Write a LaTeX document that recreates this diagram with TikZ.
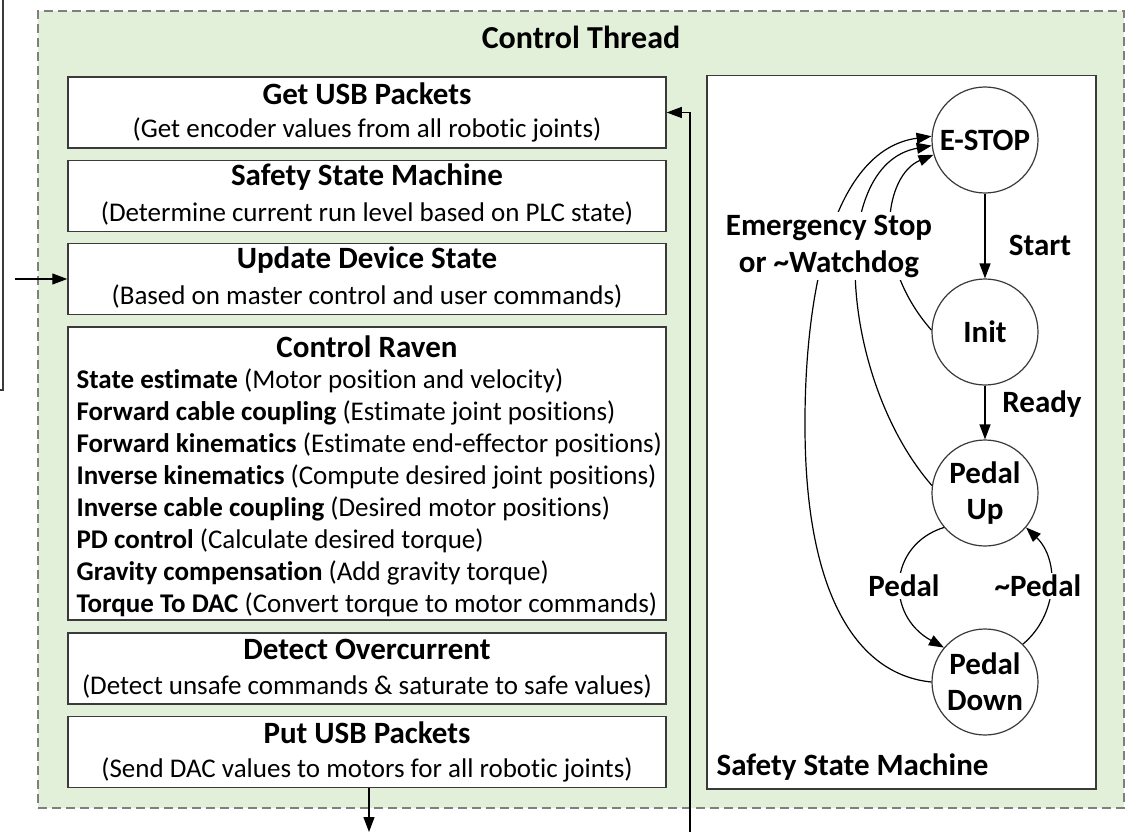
\documentclass[tikz,border=0pt]{standalone}
\usepackage{fontspec}
\setmainfont{Carlito}[Ligatures=NoCommon]
\usepackage{tikz}
\usetikzlibrary{arrows.meta,positioning}
\definecolor{threadgreen}{HTML}{E2EFD9}
\definecolor{dashgray}{HTML}{7F7F7F}
\definecolor{boxgray}{HTML}{3A3A3A}
\newcommand{\titleFont}{\fontsize{31}{37}\selectfont\bfseries}
\newcommand{\textFont}{\fontsize{27}{32}\selectfont}
% one step of the control loop: name, centre y, title, comment
\newcommand{\taskBox}[4]{%
	\node[taskbox] (#1) at (367,#2) {};
	\node[tasktitle] (#1-title) at ([yshift=-17]#1.north) {#3};
	\node[tasktext] (#1-text) at ([yshift=-54]#1.north) {#4};
}

\begin{document}
\begin{tikzpicture}[x=1pt, y=1pt, line width=1.2pt,
	>={Triangle[length=15pt,width=11pt]},
	taskbox/.style={draw=boxgray, fill=white, line width=1.5pt, minimum width=598pt, minimum height=71pt, inner sep=0pt},
	tasktitle/.style={font=\titleFont, inner sep=0pt},
	tasktext/.style={font=\textFont, inner sep=0pt},
	state/.style={circle, draw=boxgray, fill=white, minimum size=106pt, inner sep=0pt, align=center, font=\titleFont},
	trans/.style={font=\titleFont, inner sep=2pt}]
	\useasboundingbox (0,0) rectangle (1125,-832);

	% thread frame
	\node[draw=dashgray, fill=threadgreen, dash pattern=on 9pt off 5pt, line width=1.8pt,
		minimum width=1086pt, minimum height=797pt, inner sep=0pt, anchor=north west] (thread) at (37,-10) {};
	\node[font=\fontsize{32}{38}\selectfont\bfseries] (threadtitle) at (581,-37) {Control Thread};
	\draw[boxgray] (3,0) -- (3,-390) -- (0,-390);

	% loop steps
	\taskBox{getusb}{-112.5}{Get USB Packets}{(Get encoder values from all robotic joints)}
	\taskBox{safety}{-196}{Safety State Machine}{(Determine current run level based on PLC state)}
	\taskBox{update}{-279}{Update Device State}{(Based on master control and user commands)}
	\node[taskbox, minimum height=293pt] (raven) at (367,-473.5) {};
	\node[tasktitle] (raven-title) at ([yshift=-20]raven.north) {Control Raven};
	\node[tasktext, anchor=north west, align=left] (raven-text) at (76,-368) {%
		\textbf{State estimate} (Motor position and velocity)\\
		\textbf{Forward cable coupling} (Estimate joint positions)\\
		\textbf{Forward kinematics} (Estimate end-effector positions)\\
		\textbf{Inverse kinematics} (Compute desired joint positions)\\
		\textbf{Inverse cable coupling} (Desired motor positions)\\
		\textbf{PD control} (Calculate desired torque)\\
		\textbf{Gravity compensation} (Add gravity torque)\\
		\textbf{Torque To DAC} (Convert torque to motor commands)};
	\taskBox{overcurrent}{-668.5}{Detect Overcurrent}{(Detect unsafe commands \& saturate to safe values)}
	\taskBox{putusb}{-752}{Put USB Packets}{(Send DAC values to motors for all robotic joints)}

	\coordinate (userin) at (15,-279);
	\coordinate (usbout) at (369,-832);
	\coordinate (usbin) at (690,-832);
	\draw[->] (userin) -- (update.west);
	\draw[->] (putusb.south -| usbout) -- (usbout);
	\draw[->] (usbin) |- (getusb.east);

	% safety state machine
	\node[draw=boxgray, fill=white, line width=1.5pt, minimum width=389pt, minimum height=713pt, inner sep=0pt,
		anchor=north west] (ssm) at (706,-75) {};
	\node[font=\titleFont, anchor=west, inner sep=0pt] (ssm-title) at (716,-767) {Safety State Machine};
	\node[state] (estop) at (985,-140) {E-STOP};
	\node[state] (init) at (985,-332) {Init};
	\node[state] (pup) at (985,-493) {Pedal\\[-1pt]Up};
	\node[state] (pdown) at (985,-682) {Pedal\\[-1pt]Down};

	\draw[->] (estop) -- (init);
	\draw[->] (init) -- (pup);
	\draw[->] (pup.220) .. controls (888,-545) and (885,-615) .. (pdown.140);
	\draw[->] (pdown.45) .. controls (1058,-615) and (1060,-560) .. (pup.-40);
	\draw[->] (init.178) .. controls (870,-260) and (885,-175) .. (estop.196);
	\draw[->] (pup.172) .. controls (840,-380) and (825,-165) .. (estop.186);
	\draw[->] (pdown.180) .. controls (860,-675) and (806,-600) .. (805,-430)
		.. controls (804,-300) and (830,-150) .. (estop.176);

	\node[trans] (l-start) at (1040,-245) {Start};
	\node[trans] (l-ready) at (1042,-404) {Ready};
	\node[trans, fill=white, align=center, inner sep=3pt] (l-emergency) at (829,-246)
		{Emergency Stop\\or \textasciitilde Watchdog};
	\node[trans, fill=white] (l-pedal) at (904,-586) {Pedal};
	\node[trans, fill=white] (l-notpedal) at (1038,-586) {\textasciitilde Pedal};
\end{tikzpicture}
\end{document}
